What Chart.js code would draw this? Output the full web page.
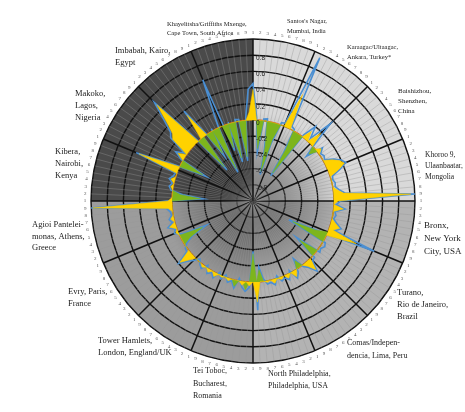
<!DOCTYPE html>
<html>
<head>
<meta charset="utf-8">
<script src="https://cdn.jsdelivr.net/npm/chart.js@4.4.1/dist/chart.umd.min.js"></script>
<style>
  html, body { margin: 0; padding: 0; background: #fff; }
  canvas { display: block; }
</style>
</head>
<body>
<canvas id="myChart" width="465" height="412"></canvas>
<script>
// settlements, clockwise from the top
const cities = [
  ["Santos's Nagar,", "Mumbai, India"],
  ["Karaagac/Ultaagac,", "Ankara, Turkey*"],
  ["Baishizhou,", "Shenzhen,", "China"],
  ["Khoroo 9,", "Ulaanbaatar,", "Mongolia"],
  ["Bronx,", "New York", "City, USA"],
  ["Turano,", "Rio de Janeiro,", "Brazil"],
  ["Comas/Indepen-", "dencia, Lima, Peru"],
  ["North Philadelphia,", "Philadelphia, USA"],
  ["Tei Toboc,", "Bucharest,", "Romania"],
  ["Tower Hamlets,", "London, England/UK"],
  ["Evry, Paris,", "France"],
  ["Agioi Pantelei-", "monas, Athens,", "Greece"],
  ["Kibera,", "Nairobi,", "Kenya"],
  ["Makoko,", "Lagos,", "Nigeria"],
  ["Imbabah, Kairo,", "Egypt"],
  ["Khayelitsha/Griffiths Mxenge,", "Cape Town, South Africa"]
];
const subLabels = ['1', '2', '3', '4', '5', '6', '7', '8', '9'];
const tickValues = [0.8, 0.6, 0.4, 0.2, 0, -0.2, -0.4, -0.6, -0.8];

// one row per settlement
const yellowValues = [
  0.38, 0, 0, 0, 0, 0, 0, 0, 0,
  0, 0.45, 0, 0, 0, 0, 0, 0.12, 0,
  0.18, 0, 0, 0.06, 0, 0, 0, 0.1, 0.18,
  0.22, 0.12, 0, 0, 0, 0, 0.05, 0.12, 0.95,
  0.05, 0, 0.12, 0, 0, 0, 0.05, 0.12, 0.05,
  0.38, 0, 0, 0, 0, 0, 0, 0, 0,
  0, 0.15, 0.05, 0, 0, 0, 0.08, 0, 0.05,
  0, 0.03, 0, 0.05, 0, 0.02, 0, 0, 0.25,
  0, 0.05, 0, 0.05, 0, 0, 0, 0.03, 0,
  0.02, 0, 0.05, 0, 0.04, 0, 0.03, 0, 0,
  0, 0.08, 0.18, 0, 0, 0, 0, 0, 0,
  0.03, 0, 0.08, 0, 0.04, 0, 0, 0.05, 0.98,
  0.05, 0, 0, 0, 0.03, 0, 0.05, 0, 0,
  0.52, 0, 0, 0, 0.1, 0, 0.25, 0.3, 0.45,
  0.68, 0, 0, 0.34, 0, 0, 0, 0, 0,
  0, 0, 0, 0, 0, 0, 0, 0, 0.1
];
const greenValues = [
  0, 0, -0.35, 0, 0, -0.3, -0.62, -0.2, 0,
  0, 0, 0, 0, -0.25, -0.58, 0, 0, 0,
  0, 0, -0.1, 0, 0, 0, 0, 0, 0,
  0, 0, 0, 0, 0, 0, 0, 0, 0,
  0, 0, 0, 0, 0, 0, 0, 0, 0,
  0, -0.15, -0.45, 0, 0, 0, 0, -0.25, 0,
  0, 0, 0, 0, -0.1, 0, 0, 0, 0,
  0, 0, 0, 0, 0, 0, 0, -0.15, 0,
  -0.35, 0, 0.1, 0, 0, 0.08, 0, 0, 0,
  0, 0, 0, 0, 0, 0, 0, 0, 0,
  0, 0, 0, 0, 0, 0, -0.1, -0.3, 0,
  0, 0, 0, 0, 0, 0, 0, 0, 0,
  0, -0.35, -0.1, 0, 0, 0, 0, 0, 0,
  0, 0, -0.3, 0, 0, 0, 0, 0, 0,
  0, 0, -0.45, 0, 0, -0.3, 0, -0.55, 0,
  0, -0.3, 0, -0.45, 0, 0, -0.45, 0, 0
];
const blueValues = [
  0.45, 0.03, -0.4, 0.02, 0.03, -0.35, -0.66, -0.25, 0.03,
  0.04, 0.95, 0.04, 0.02, -0.3, -0.62, 0.03, 0.2, 0.05,
  0.35, 0.02, -0.14, 0.08, 0.02, 0.04, 0.02, 0.12, 0.2,
  0.24, 0.14, 0.03, 0.02, 0.04, 0.03, 0.07, 0.14, 1.0,
  0.08, 0.03, 0.14, 0.02, 0.04, 0.02, 0.07, 0.14, 0.07,
  0.62, -0.18, -0.5, 0.03, 0.05, 0.02, 0.04, -0.3, 0.03,
  0.04, 0.17, 0.07, 0.02, -0.13, 0.04, 0.1, -0.03, 0.07,
  0.03, 0.05, -0.03, 0.07, 0.03, 0.04, -0.03, -0.18, 0.35,
  -0.38, 0.07, 0.12, 0.07, -0.03, 0.1, 0.02, 0.05, -0.03,
  0.04, -0.03, 0.07, 0.02, 0.06, -0.03, 0.05, 0.02, -0.03,
  0.04, 0.1, 0.2, 0.03, 0.02, -0.03, -0.13, -0.35, -0.04,
  0.05, 0.02, 0.1, 0.03, 0.06, 0.02, 0.03, 0.07, 1.0,
  0.08, -0.38, -0.13, 0.02, 0.05, 0.02, 0.07, 0.03, 0.02,
  0.56, 0.03, -0.34, 0.02, 0.13, 0.03, 0.28, 0.33, 0.5,
  0.72, 0.03, -0.5, 0.4, 0.02, -0.34, 0.03, -0.6, 0.02,
  0.62, -0.34, 0.02, -0.5, 0.03, 0.02, -0.5, 0.03, 0.38
];

const labels = cities.flatMap(() => subLabels);
const perCity = subLabels.length;

// where each city name sits, relative to the centre: [dx, dy, font size, line height]
const cityText = [
  [34, -180, 6.5, 10], [94, -154, 6.5, 10], [145, -110, 7, 10], [172, -46, 7.5, 11],
  [171, 25, 9, 13], [144, 92, 8.5, 12], [94, 142, 8, 13], [15, 173, 8, 12],
  [-60, 170, 8, 12.5], [-155, 140, 8.5, 12], [-185, 91, 8.5, 12], [-221, 24, 8.5, 11.5],
  [-198, -49, 8.5, 12], [-178, -107, 8.5, 12], [-138, -150, 8.5, 12], [-86, -177, 6.5, 9]
];

const backdrop = {
  id: 'backdrop',
  beforeDraw(chart) {
    const s = chart.scales.r, ctx = chart.ctx;
    const x = s.xCenter, y = s.yCenter, R = s.drawingArea;
    const quads = [['#d9d9d9', -90, 0], ['#b3b3b3', 0, 90], ['#9c9c9c', 90, 180], ['#4a4a4a', 180, 270]];
    ctx.save();
    quads.forEach(([c, a0, a1]) => {
      ctx.fillStyle = c;
      ctx.beginPath();
      ctx.moveTo(x, y);
      ctx.arc(x, y, R, a0 * Math.PI / 180, a1 * Math.PI / 180);
      ctx.closePath();
      ctx.fill();
    });
    const g = ctx.createRadialGradient(x, y, 0, x, y, R * 0.55);
    g.addColorStop(0, 'rgba(0,0,0,0.5)');
    g.addColorStop(1, 'rgba(0,0,0,0)');
    ctx.fillStyle = g;
    ctx.beginPath();
    ctx.arc(x, y, R * 0.55, 0, Math.PI * 2);
    ctx.fill();
    ctx.restore();
  }
};

const texts = {
  id: 'texts',
  afterDraw(chart) {
    const s = chart.scales.r, ctx = chart.ctx;
    const x = s.xCenter, y = s.yCenter, R = s.drawingArea;
    ctx.save();
    // small item numbers round the rim
    ctx.font = '5px "Liberation Serif"';
    ctx.fillStyle = '#555';
    ctx.textAlign = 'center';
    ctx.textBaseline = 'middle';
    labels.forEach((l, i) => {
      const p = s.getPointPosition(i, R + 6);
      ctx.fillText(l, p.x, p.y);
    });
    // value ticks along the upward axis
    ctx.font = '6.5px "Liberation Sans"';
    ctx.fillStyle = '#222';
    ctx.textAlign = 'left';
    tickValues.forEach(v => {
      const d = s.getDistanceFromCenterForValue(v);
      ctx.fillText(String(v), x + 3, y - d + 3);
    });
    // settlement names
    ctx.fillStyle = '#222';
    ctx.textAlign = 'left';
    cities.forEach((lines, k) => {
      const [dx, dy, size, lh] = cityText[k];
      ctx.font = size + 'px "Liberation Serif"';
      lines.forEach((t, j) => ctx.fillText(t, x + dx, y + dy + j * lh));
    });
    ctx.restore();
  }
};

new Chart(document.getElementById('myChart'), {
  type: 'radar',
  data: {
    labels: labels,
    datasets: [{
      label: 'yellow',
      data: yellowValues,
      fill: { value: 0 },
      backgroundColor: '#ffd200',
      borderColor: '#f5c400',
      borderWidth: 0.5
    }, {
      label: 'green',
      data: greenValues,
      fill: { value: 0 },
      backgroundColor: '#7db51c',
      borderColor: '#7db51c',
      borderWidth: 0.5
    }, {
      label: 'blue',
      data: blueValues,
      fill: false,
      borderColor: '#4b8fd2',
      borderWidth: 1.6
    }]
  },
  options: {
    responsive: false,
    animation: false,
    layout: { padding: { left: 91, right: 50, top: 39, bottom: 49 } },
    elements: { line: { tension: 0 }, point: { radius: 0 } },
    plugins: { legend: { display: false }, tooltip: { enabled: false } },
    scales: {
      r: {
        min: -1,
        max: 1,
        ticks: { display: false, stepSize: 0.2 },
        pointLabels: { display: false },
        grid: {
          circular: true,
          color: c => Math.abs(c.tick.value) < 1e-6 ? '#c8501c' : '#111',
          lineWidth: 1.4
        },
        angleLines: {
          color: c => c.index % perCity === 0 ? '#111' : 'rgba(150,150,150,0.55)',
          lineWidth: c => c.index % perCity === 0 ? 1.5 : 0.7
        }
      }
    }
  },
  plugins: [backdrop, texts]
});
</script>
</body>
</html>
